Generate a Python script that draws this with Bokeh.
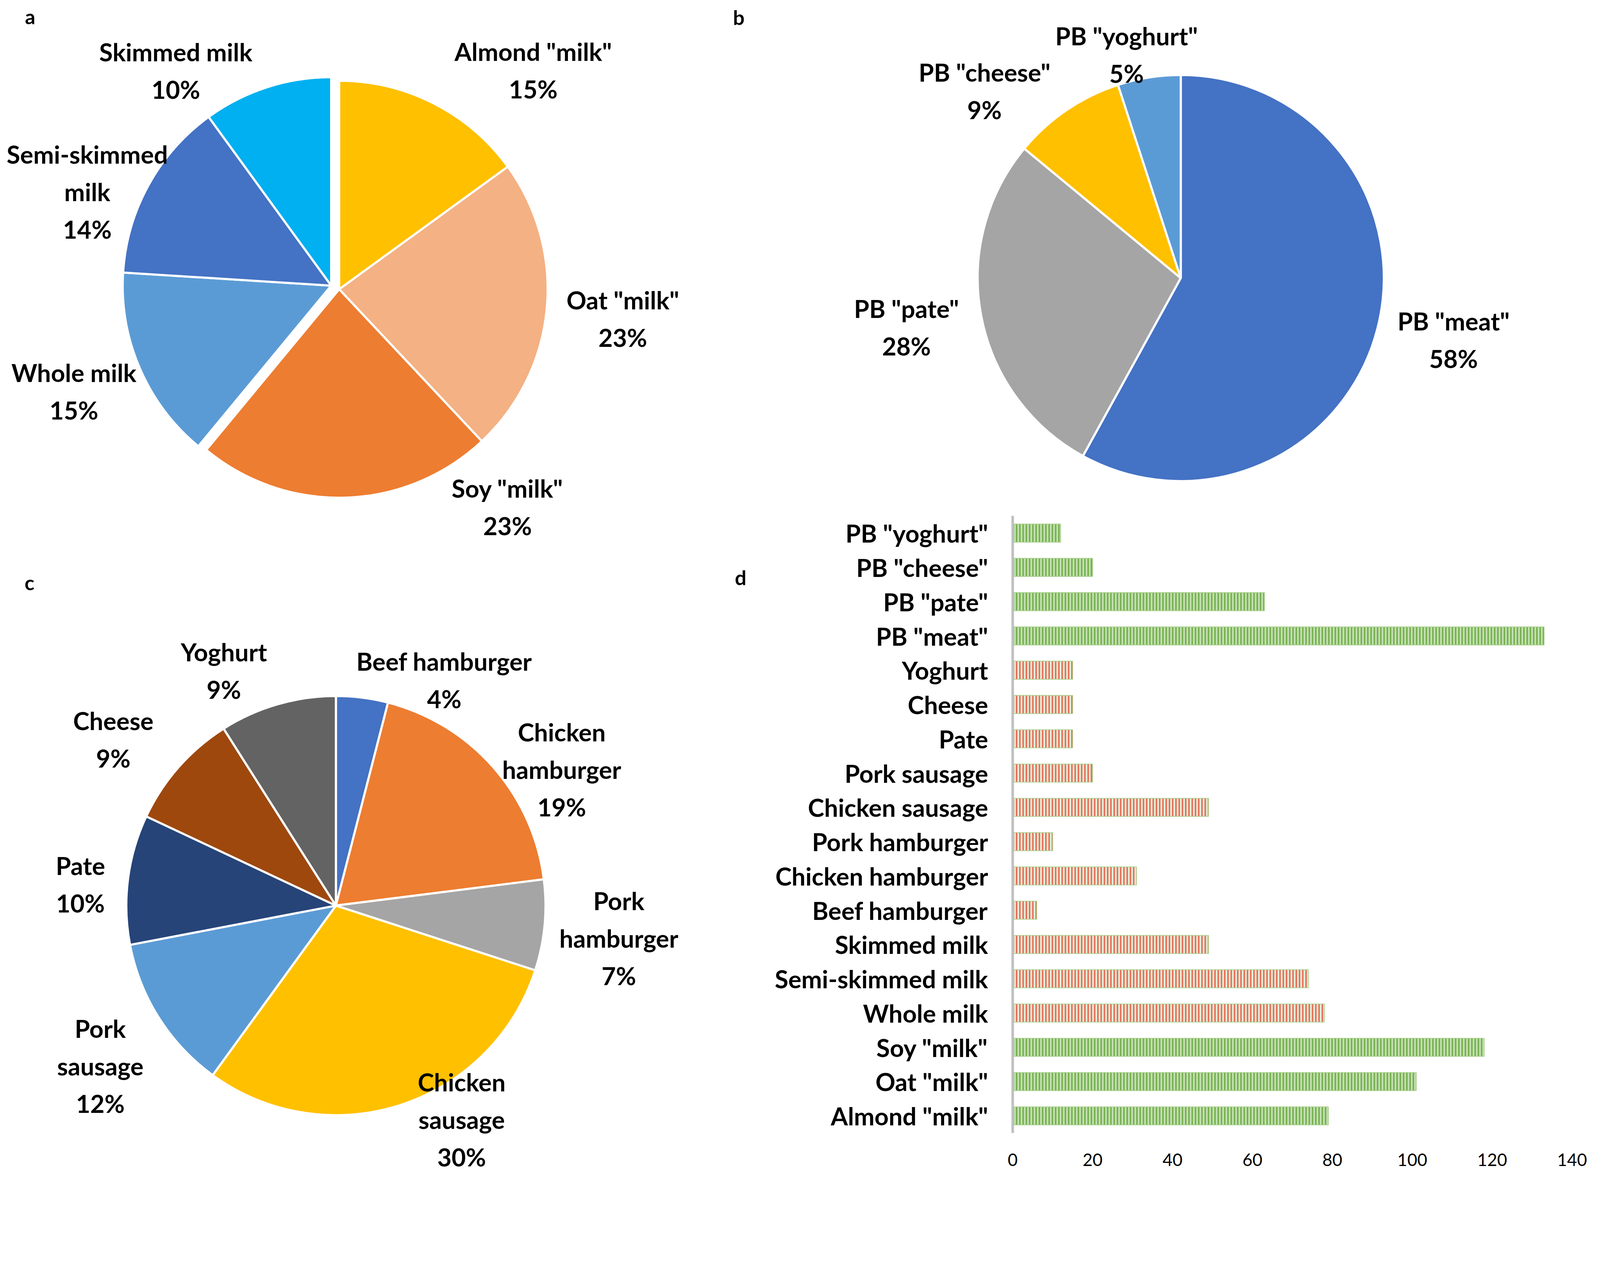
import numpy as np
from bokeh.plotting import figure
from bokeh.models import Range1d, ColumnDataSource, FixedTicker, LinearAxis
from bokeh.embed import file_html
from bokeh.resources import INLINE
from bokeh.core.properties import value

# ---- data ----
# a: milk and plant-based "milk"
a_names = ['Almond "milk"', 'Oat "milk"', 'Soy "milk"', 'Whole milk', 'Semi-skimmed\nmilk', 'Skimmed milk']
a_pct = [15, 23, 23, 15, 14, 10]
a_group = ["plant", "plant", "plant", "dairy", "dairy", "dairy"]

# b: plant-based substitutes
b_names = ['PB "meat"', 'PB "pate"', 'PB "cheese"', 'PB "yoghurt"']
b_pct = [58, 28, 9, 5]

# c: animal products
c_names = ["Beef hamburger", "Chicken\nhamburger", "Pork\nhamburger", "Chicken\nsausage",
           "Pork\nsausage", "Pate", "Cheese", "Yoghurt"]
c_pct = [4, 19, 7, 30, 12, 10, 9, 9]

# d: counts, listed bottom to top
d_items = ['Almond "milk"', 'Oat "milk"', 'Soy "milk"', 'Whole milk', 'Semi-skimmed milk',
           'Skimmed milk', 'Beef hamburger', 'Chicken hamburger', 'Pork hamburger',
           'Chicken sausage', 'Pork sausage', 'Pate', 'Cheese', 'Yoghurt',
           'PB "meat"', 'PB "pate"', 'PB "cheese"', 'PB "yoghurt"']
d_values = [79, 101, 118, 78, 74, 49, 6, 31, 10, 49, 20, 15, 15, 15, 133, 63, 20, 12]
d_group = ["plant"] * 3 + ["animal"] * 11 + ["plant"] * 4
d_ticks = [0, 20, 40, 60, 80, 100, 120, 140]

# ---- styles / layout (positions in reference pixels) ----
S = 0.925  # css px per reference px (the browser shows ~4100 css px across)
W, H = 4404, 3250
a_colors = ["#FFC000", "#F4B183", "#ED7D31", "#5B9BD5", "#4472C4", "#00B0F0"]
b_colors = ["#4472C4", "#A5A5A5", "#FFC000", "#5B9BD5"]
c_colors = ["#4472C4", "#ED7D31", "#A5A5A5", "#FFC000", "#5B9BD5", "#264478", "#9E480E", "#636363"]

FONT = value("Lato")


def px(n):
    return f"{round(n * S)}px"


a_label_xy = [(1483, 202), (1731, 889), (1412, 1410), (212, 1090), (249, 538), (494, 203)]
b_label_xy = [(4030, 948), (2516, 913), (2732, 259), (3125, 158)]
c_label_xy = [(1237, 1889), (1562, 2137), (1720, 2604), (1285, 3106), (285, 2957),
              (230, 2455), (321, 2054), (627, 1863)]

p = figure(width=round(W * S), height=round(H * S),
           x_range=Range1d(8, 8 + W), y_range=Range1d(-(8 + H), -8),
           output_backend="svg", toolbar_location=None, x_axis_location=None,
           y_axis_location=None, min_border=0, outline_line_color=None)
p.grid.visible = False


def draw_pie(names, pct, colors, cx, cy, r, label_xy, shifts=None):
    frac = np.array(pct, dtype=float) / sum(pct)
    ends = np.cumsum(frac)
    starts = ends - frac
    if shifts is None:
        shifts = [(0, 0)] * len(pct)
    src = ColumnDataSource(dict(
        x=[cx + s[0] for s in shifts],
        y=[-cy - s[1] for s in shifts],
        start=np.pi / 2 - 2 * np.pi * ends,
        end=np.pi / 2 - 2 * np.pi * starts,
        color=colors,
    ))
    p.wedge(x="x", y="y", radius=r, start_angle="start", end_angle="end",
            fill_color="color", line_color="white", line_width=6 * S, source=src)
    labels = [f"{n}\n{v}%" for n, v in zip(names, pct)]
    p.text(x=[q[0] for q in label_xy], y=[-q[1] for q in label_xy], text=labels,
           text_font=FONT, text_font_style="bold", text_font_size=px(68),
           text_line_height=1.28, text_align="center", text_baseline="middle",
           text_color="black")


# panel letters
p.text(x=[91, 2052, 89, 2057], y=[-53, -55, -1620, -1605], text=["a", "b", "c", "d"],
       text_font=FONT, text_font_style="bold", text_font_size=px(56),
       text_align="center", text_baseline="middle", text_color="black")

a_shift = [(22, 10) if g == "plant" else (0, 0) for g in a_group]
draw_pie(a_names, a_pct, a_colors, 924, 798, 577, a_label_xy, a_shift)
draw_pie(b_names, b_pct, b_colors, 3275, 777, 562, b_label_xy)
draw_pie(c_names, c_pct, c_colors, 937, 2514, 580, c_label_xy)

# d: bar chart on its own ranges, placed inside the page
AX0, AX140 = 2810, 4358          # x of values 0 and 140
ROW0, ROW17 = 3096, 1483         # y of first and last category
k = (AX140 - AX0) / 140.0
step = (ROW0 - ROW17) / (len(d_items) - 1)
p.extra_x_ranges["val"] = Range1d((8 - AX0) / k, (8 + W - AX0) / k)
p.extra_y_ranges["cat"] = Range1d((ROW0 - (8 + H)) / step, (ROW0 - 8) / step)

idx = list(range(len(d_items)))
fill = ["#C5E0B4" if g == "plant" else "#E2EFDA" for g in d_group]
hatch = ["#70AD47" if g == "plant" else "#E8664F" for g in d_group]
bars = ColumnDataSource(dict(idx=idx, val=d_values, fill=fill, hatch=hatch))
p.hbar(y="idx", left=0, right="val", height=0.53, source=bars,
       x_range_name="val", y_range_name="cat",
       fill_color="fill", hatch_pattern="|", hatch_color="hatch", hatch_scale=9 * S,
       hatch_weight=4 * S, line_color="#A9D18E", line_width=2 * S)

yax = LinearAxis(x_range_name="val", y_range_name="cat", fixed_location=0,
                 ticker=FixedTicker(ticks=idx),
                 major_label_overrides={i: n for i, n in zip(idx, d_items)},
                 bounds=(-0.5, len(d_items) - 0.5))
yax.axis_line_color = "#BFBFBF"
yax.axis_line_width = 7 * S
yax.major_tick_line_color = None
yax.minor_tick_line_color = None
yax.major_label_standoff = round(62 * S)
yax.major_label_text_font = "Lato"
yax.major_label_text_font_style = "bold"
yax.major_label_text_font_size = px(68)
yax.major_label_text_color = "black"
p.add_layout(yax, "left")

xax = LinearAxis(x_range_name="val", y_range_name="cat", fixed_location=-0.5,
                 ticker=FixedTicker(ticks=d_ticks), bounds=(0, 140))
xax.axis_line_color = None
xax.major_tick_line_color = None
xax.minor_tick_line_color = None
xax.major_label_standoff = round(50 * S)
xax.major_label_text_font = "Lato"
xax.major_label_text_font_size = px(48)
xax.major_label_text_color = "black"
p.add_layout(xax, "below")

open("out.html", "w").write(file_html(p, INLINE))
